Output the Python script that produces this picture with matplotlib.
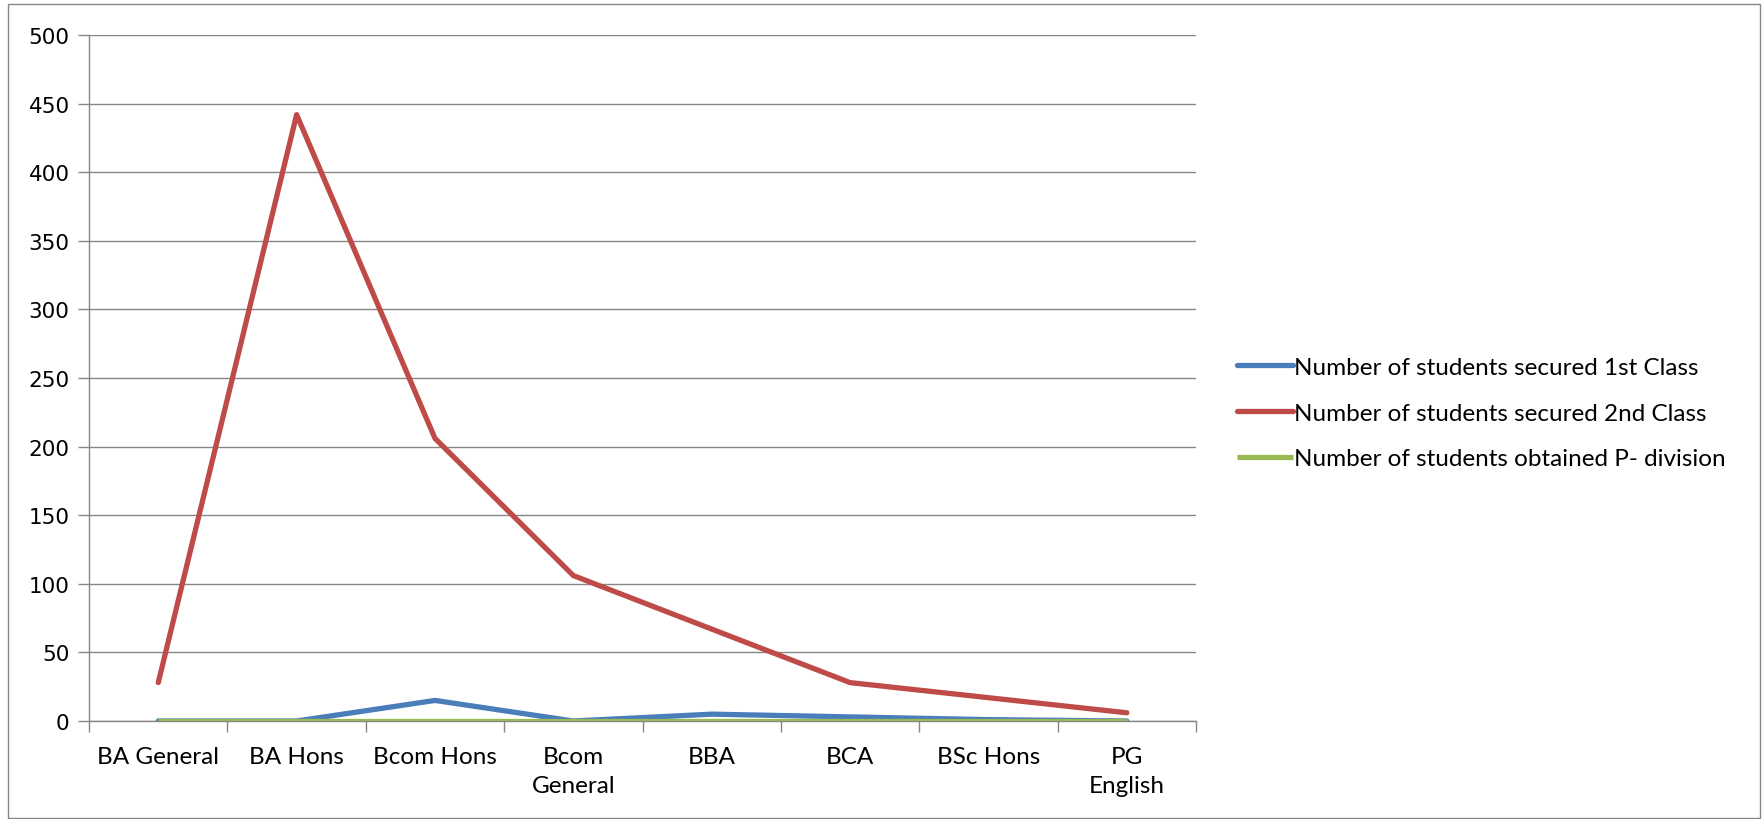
import numpy as np
import matplotlib.pyplot as plt
from matplotlib.patches import Rectangle

# Data
courses = ["BA General", "BA Hons", "Bcom Hons", "Bcom\nGeneral", "BBA", "BCA", "BSc Hons", "PG\nEnglish"]
first_class = [0, 0, 15, 0, 5, 3, 1, 0]
second_class = [28, 442, 206, 106, 67, 28, 17, 6]
p_division = [0, 0, 0, 0, 0, 0, 0, 0]
y_ticks = [0, 50, 100, 150, 200, 250, 300, 350, 400, 450, 500]

fig = plt.figure(figsize=(17.64, 8.2), dpi=100)
ax = fig.add_axes([0.0505, 0.1195, 0.6275, 0.8365])

x = np.arange(len(courses))
lw = 3.8
ax.plot(x, first_class, color="#4a7ebb", lw=lw, solid_capstyle="round",
        label="Number of students secured 1st Class", zorder=3)
ax.plot(x, second_class, color="#be4b48", lw=lw, solid_capstyle="round",
        label="Number of students secured 2nd Class", zorder=3)
ax.plot(x, p_division, color="#98b954", lw=lw, solid_capstyle="butt",
        label="Number of students obtained P- division", zorder=4)

ax.set_xlim(-0.5, len(courses) - 0.5)
ax.set_ylim(0, 500)
ax.set_yticks(y_ticks)
ax.set_yticklabels([str(v) for v in y_ticks], fontsize=15.5, family="DejaVu Sans")
ax.tick_params(axis="y", length=8, width=1, color="#868686", pad=6)

# category labels centred, tick marks on boundaries
ax.set_xticks(np.arange(-0.5, len(courses)), minor=False)
ax.set_xticklabels([])
ax.set_xticks(x, minor=True)
ax.set_xticklabels(courses, minor=True, fontsize=17.5, family="Lato", linespacing=1.45)
ax.tick_params(axis="x", which="major", length=8, width=1, color="#868686")
ax.tick_params(axis="x", which="minor", length=0, pad=18)

ax.yaxis.grid(True, color="#868686", lw=1)
ax.set_axisbelow(True)
for side in ["top", "right"]:
    ax.spines[side].set_visible(False)
for side in ["left", "bottom"]:
    ax.spines[side].set_color("#868686")
    ax.spines[side].set_linewidth(1)

leg = ax.legend(loc="center left", bbox_to_anchor=(1.037, 0.449), frameon=False,
                prop={"family": "Lato", "size": 17.5}, handlelength=2.3,
                handletextpad=0.05, labelspacing=1.02, borderpad=0,
                borderaxespad=0)

# outer chart border
fig.patches.append(Rectangle((8 / 1764, 1 / 820), 1752 / 1764, 814 / 820,
                             transform=fig.transFigure, fill=False,
                             edgecolor="#868686", lw=1))

fig.savefig("out.png", dpi=100)
